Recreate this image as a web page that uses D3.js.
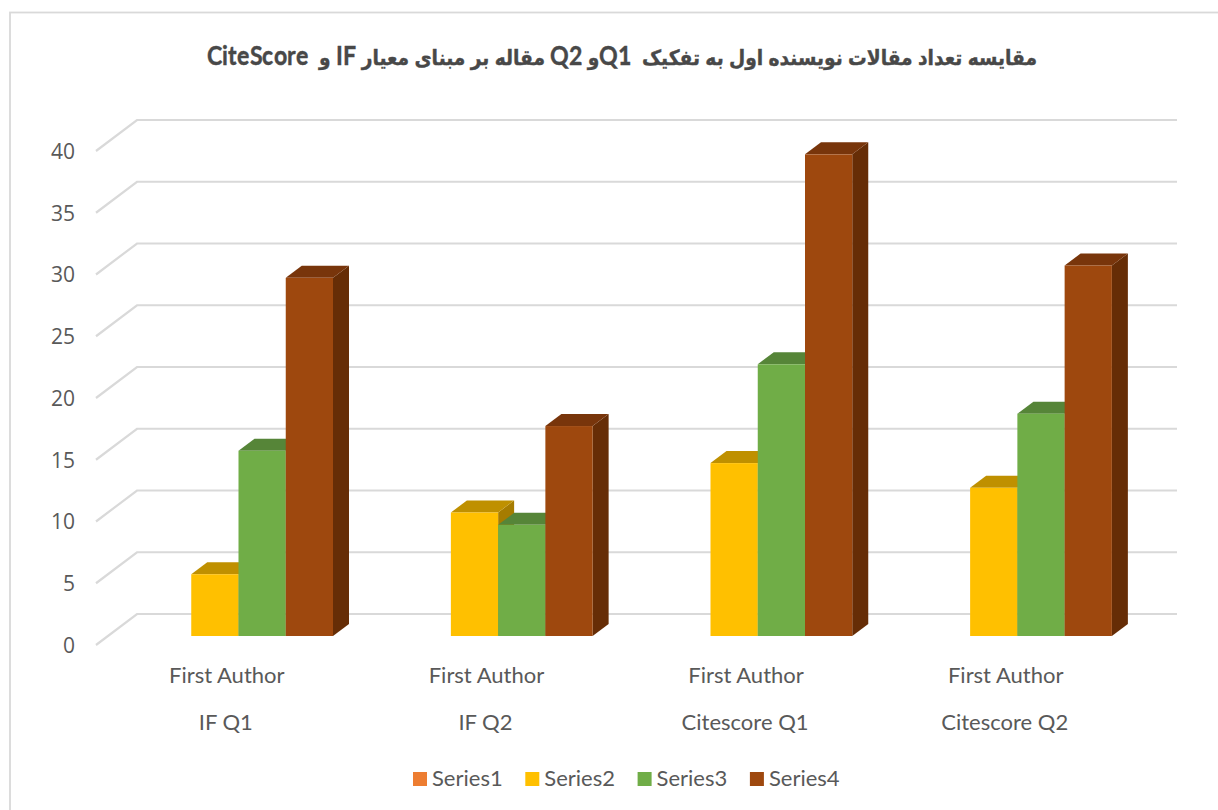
<!DOCTYPE html>
<html>
<head>
<meta charset="utf-8">
<script src="https://d3js.org/d3.v7.min.js"></script>
<style>
  @font-face { font-family: TitleLatin; src: local("Lato Bold"), local("Lato-Bold"); font-weight: bold; size-adjust: 122%; unicode-range: U+0020-007F; }
  html, body { margin: 0; padding: 0; background: #fff; }
  text { font-family: Lato, "Open Sans", sans-serif; fill: #595959; }
  .title { font-family: TitleLatin, "DejaVu Sans", sans-serif; font-weight: bold; fill: #484848; stroke: #484848; stroke-width: 0.4; }
  .tick { font-family: "Open Sans", sans-serif; }
</style>
</head>
<body>
<div class="chart"></div>
<script>
var categoryTop = ["First Author", "First Author", "First Author", "First Author"];
var categoryBottom = ["IF Q1", "IF Q2", "Citescore Q1", "Citescore Q2"];
var seriesNames = ["Series1", "Series2", "Series3", "Series4"];
var series1 = [0, 0, 0, 0];
var series2 = [5, 10, 14, 12];
var series3 = [15, 9, 22, 18];
var series4 = [29, 17, 39, 30];
var yTicks = [0, 5, 10, 15, 20, 25, 30, 35, 40];
var titleText = "مقایسه تعداد مقالات نویسنده اول به تفکیک  Q1و Q2 مقاله بر مبنای معیار IF و  CiteScore";

var fronts = ["#ED7D31", "#FFC000", "#70AD47", "#9E480E"];
var tops = ["#B85F20", "#BF9000", "#568538", "#78350B"];
var sides = ["#9E4F18", "#A67C00", "#47702D", "#662D06"];

var w = 1218;
var h = 810;

var svg = d3.select(".chart")
    .append("svg")
    .attr("width", w)
    .attr("height", h)
    .style("display", "block");

// chart frame, runs off the right and bottom of the picture
svg.append("rect")
    .attr("x", 10)
    .attr("y", 12.5)
    .attr("width", 1230)
    .attr("height", 830)
    .attr("fill", "#fff")
    .attr("stroke", "#D9D9D9")
    .attr("stroke-width", 1.8);

function drawChart() {
    svg.append("text")
        .attr("class", "title")
        .attr("x", 622)
        .attr("y", 65)
        .attr("text-anchor", "middle")
        .attr("direction", "rtl")
        .attr("font-size", 21)
        .attr("textLength", 830)
        .attr("lengthAdjust", "spacingAndGlyphs")
        .style("white-space", "pre")
        .text(titleText);

    // y is the front plane of the bars, the wall and the floor edge sit behind / before it
    var y = d3.scaleLinear().domain([0, 40]).range([636, 142]);
    var x0 = d3.scaleBand().domain(d3.range(categoryBottom.length)).range([108.5, 1147]);
    var x1 = d3.scaleBand().domain(seriesNames).range([35.5, 224.5]);

    var depthX = 16, depthY = 12;
    var wallX = 28.5, wallY = 22;
    var edgeX = -12.5, edgeY = 9;
    var wallEnd = 1177;

    var grid = svg.append("g")
        .attr("fill", "none")
        .attr("stroke", "#D9D9D9")
        .attr("stroke-width", 2.2);

    grid.selectAll("path")
        .data(yTicks)
        .enter()
        .append("path")
        .attr("d", function(d) {
            var p = d3.path();
            p.moveTo(x0.range()[0] + edgeX, y(d) + edgeY);
            p.lineTo(x0.range()[0] + wallX, y(d) - wallY);
            p.lineTo(wallEnd, y(d) - wallY);
            return p.toString();
        });

    svg.append("g")
        .selectAll("text")
        .data(yTicks)
        .enter()
        .append("text")
        .attr("class", "tick")
        .attr("x", 75)
        .attr("y", function(d) { return y(d) + 9.5; })
        .attr("dy", "0.35em")
        .attr("text-anchor", "end")
        .attr("font-size", 21)
        .text(function(d) { return d; });

    var rows = [series1, series2, series3, series4];
    var bars = [];
    rows.forEach(function(values, s) {
        values.forEach(function(v, c) {
            if (v > 0) bars.push({ s: s, c: c, v: v });
        });
    });
    // paint left to right so each bar covers the side of the one before it
    bars.sort(function(a, b) { return a.c - b.c || a.s - b.s; });

    var barW = x1.bandwidth();
    var bar = svg.append("g")
        .selectAll("g")
        .data(bars)
        .enter()
        .append("g")
        .attr("transform", function(d) {
            return "translate(" + (x0(d.c) + x1(seriesNames[d.s])) + ",0)";
        });

    bar.append("path")
        .attr("fill", function(d) { return sides[d.s]; })
        .attr("d", function(d) {
            var t = y(d.v), b = y(0);
            return "M" + barW + "," + t + "l" + depthX + "," + (-depthY) + "V" + (b - depthY) + "L" + barW + "," + b + "Z";
        });

    bar.append("path")
        .attr("fill", function(d) { return tops[d.s]; })
        .attr("d", function(d) {
            var t = y(d.v);
            return "M0," + t + "l" + depthX + "," + (-depthY) + "h" + barW + "l" + (-depthX) + "," + depthY + "Z";
        });

    bar.append("rect")
        .attr("y", function(d) { return y(d.v); })
        .attr("width", barW)
        .attr("height", function(d) { return y(0) - y(d.v); })
        .attr("fill", function(d) { return fronts[d.s]; });

    var labels = svg.append("g")
        .attr("text-anchor", "middle")
        .attr("font-size", 22);

    labels.selectAll(".top")
        .data(categoryTop)
        .enter()
        .append("text")
        .attr("class", "top")
        .attr("x", function(d, i) { return x0(i) + x0.bandwidth() / 2 + edgeX + 1; })
        .attr("y", 683)
        .text(function(d) { return d; });

    labels.selectAll(".bottom")
        .data(categoryBottom)
        .enter()
        .append("text")
        .attr("class", "bottom")
        .attr("x", function(d, i) { return x0(i) + x0.bandwidth() / 2 + edgeX; })
        .attr("y", 730)
        .text(function(d) { return d; });

    var legend = svg.append("g")
        .selectAll("g")
        .data(seriesNames)
        .enter()
        .append("g")
        .attr("transform", function(d, i) { return "translate(" + (413 + i * 112.3) + ",772)"; });

    legend.append("rect")
        .attr("width", 14)
        .attr("height", 14)
        .attr("fill", function(d, i) { return fronts[i]; });

    legend.append("text")
        .attr("x", 19)
        .attr("y", 14)
        .attr("font-size", 22)
        .text(function(d) { return d; });
}

drawChart();
</script>
</body>
</html>
